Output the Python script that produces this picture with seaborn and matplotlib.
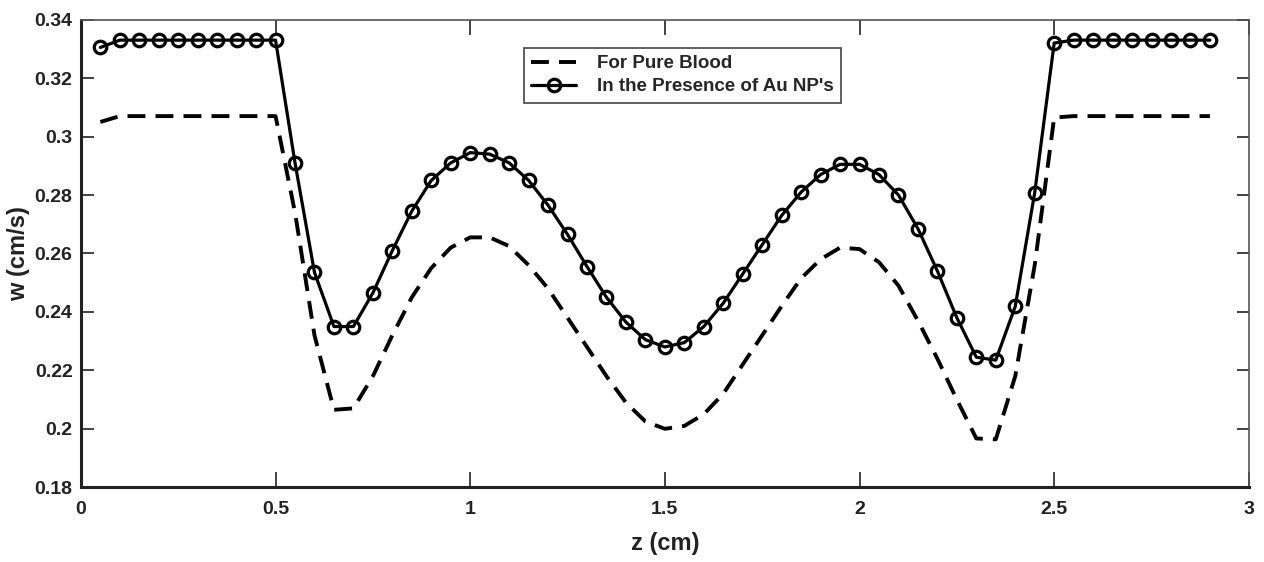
#! /usr/bin/env python
"""
Velocity profile w along z, pure blood vs. blood with Au nanoparticles
"""

import numpy as np
import pandas as pd
import seaborn as sns
import matplotlib.pyplot as plt
from matplotlib.ticker import FuncFormatter, MultipleLocator

# axial positions (cm)
z = [0.05, 0.10, 0.15, 0.20, 0.25, 0.30, 0.35, 0.40, 0.45, 0.50,
     0.55, 0.60, 0.65, 0.70, 0.75, 0.80, 0.85, 0.90, 0.95, 1.00,
     1.05, 1.10, 1.15, 1.20, 1.25, 1.30, 1.35, 1.40, 1.45, 1.50,
     1.55, 1.60, 1.65, 1.70, 1.75, 1.80, 1.85, 1.90, 1.95, 2.00,
     2.05, 2.10, 2.15, 2.20, 2.25, 2.30, 2.35, 2.40, 2.45, 2.50,
     2.55, 2.60, 2.65, 2.70, 2.75, 2.80, 2.85, 2.90]

# pure blood (cm/s)
w_blood = [0.305, 0.307, 0.307, 0.307, 0.307, 0.307, 0.307, 0.307, 0.307, 0.307,
           0.274, 0.232, 0.2065, 0.207, 0.218, 0.232, 0.245, 0.255, 0.262, 0.2655,
           0.2655, 0.2625, 0.256, 0.248, 0.238, 0.228, 0.218, 0.209, 0.2025, 0.200,
           0.201, 0.205, 0.212, 0.222, 0.232, 0.242, 0.2515, 0.258, 0.262, 0.2615,
           0.257, 0.249, 0.237, 0.224, 0.210, 0.1967, 0.1964, 0.218, 0.256, 0.3065,
           0.307, 0.307, 0.307, 0.307, 0.307, 0.307, 0.307, 0.307]

# with Au nanoparticles (cm/s)
w_au = [0.3305, 0.333, 0.333, 0.333, 0.333, 0.333, 0.333, 0.333, 0.333, 0.333,
        0.291, 0.2535, 0.235, 0.235, 0.2465, 0.261, 0.2745, 0.285, 0.291, 0.2945,
        0.294, 0.291, 0.285, 0.2765, 0.2665, 0.2555, 0.245, 0.2365, 0.2305, 0.228,
        0.2295, 0.235, 0.243, 0.253, 0.263, 0.273, 0.281, 0.287, 0.2905, 0.2905,
        0.287, 0.280, 0.2685, 0.254, 0.238, 0.2245, 0.2235, 0.2419, 0.2808, 0.332,
        0.333, 0.333, 0.333, 0.333, 0.333, 0.333, 0.333, 0.333]

labels = ["For Pure Blood", "In the Presence of Au NP's"]


def fmt(v, pos):
    return f"{v:g}"


def run() -> None:
    sns.set_style("ticks")
    plt.rcParams["font.family"] = ["Liberation Sans", "DejaVu Sans"]
    plt.rcParams["font.weight"] = "bold"

    df = pd.DataFrame({"z": z, "blood": w_blood, "au": w_au})

    fig = plt.figure(figsize=(12.64, 5.62), dpi=100)
    ax = fig.add_axes([0.064, 0.133, 0.924, 0.832])

    sns.lineplot(data=df, x="z", y="blood", ax=ax, color="black",
                 linestyle=(0, (4.6, 2.6)), linewidth=2.8, label=labels[0])
    sns.lineplot(data=df, x="z", y="au", ax=ax, color="black", linewidth=2.3,
                 marker="o", markersize=9, markerfacecolor="none",
                 markeredgecolor="black", markeredgewidth=2.3, label=labels[1])

    ax.set_xlim(0, 3)
    ax.set_ylim(0.18, 0.34)
    ax.xaxis.set_major_locator(MultipleLocator(0.5))
    ax.yaxis.set_major_locator(MultipleLocator(0.02))
    ax.xaxis.set_major_formatter(FuncFormatter(fmt))
    ax.yaxis.set_major_formatter(FuncFormatter(fmt))
    ax.tick_params(direction="in", width=1.2, top=True, right=True,
                   labelsize=14, colors="#222222")
    ax.tick_params(axis="x", length=11, pad=10)
    ax.tick_params(axis="y", length=9, pad=6)
    for t in ax.get_xticklabels() + ax.get_yticklabels():
        t.set_fontweight("bold")

    for side in ["left", "bottom"]:
        ax.spines[side].set_linewidth(2.2)
        ax.spines[side].set_color("#222222")
    for side in ["top", "right"]:
        ax.spines[side].set_linewidth(1.2)
        ax.spines[side].set_color("#555555")

    ax.set_xlabel("z (cm)", fontsize=17, fontweight="bold", color="#222222", labelpad=10)
    ax.set_ylabel("w (cm/s)", fontsize=17, fontweight="bold", color="#222222", labelpad=3)

    leg = ax.legend(loc="upper center", bbox_to_anchor=(0.515, 0.94), fancybox=False,
                    framealpha=1, edgecolor="#444444", handlelength=2.4,
                    handletextpad=1.1, prop={"weight": "bold", "size": 13.5},
                    borderpad=0.4, labelspacing=0.3, borderaxespad=0)
    leg.get_frame().set_linewidth(1.2)

    plt.savefig("out.png", dpi=100)


if __name__ == "__main__":
    run()
